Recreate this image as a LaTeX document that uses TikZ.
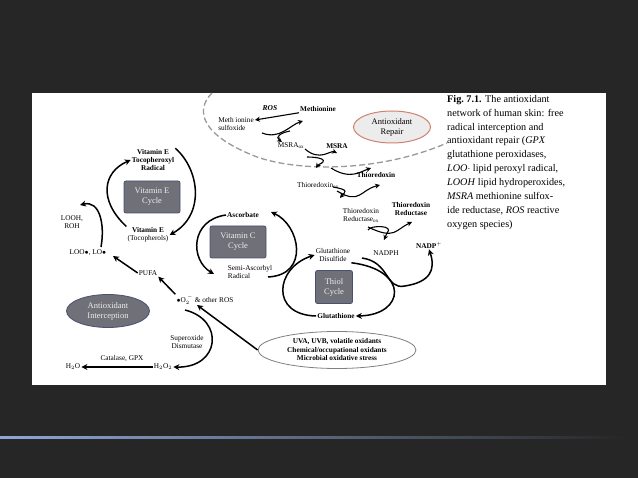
\documentclass[tikz,border=0pt]{standalone}
\usepackage{fontspec}
\setmainfont{Liberation Serif}
\usetikzlibrary{arrows.meta,shapes.geometric}
\definecolor{slide}{HTML}{262626}
\definecolor{boxg}{HTML}{707078}
\definecolor{boxb}{HTML}{4A5070}
\definecolor{rep}{HTML}{D08070}
\definecolor{lineb}{HTML}{8FA8D8}
\tikzset{
 lab/.style={font=\fontsize{7.3}{8}\selectfont,align=center,inner sep=1pt},
 blab/.style={lab,font=\fontsize{7.3}{8}\selectfont\bfseries},
 cyc/.style={draw=boxb,fill=boxg,text=white!85!gray,rounded corners=2pt,font=\fontsize{8.5}{10}\selectfont,align=center,minimum width=56pt,minimum height=32pt,line width=0.8pt},
 ar/.style={line width=1.5pt,-{Stealth[length=6pt,width=6pt]}},
 thin ar/.style={line width=1.1pt,-{Stealth[length=5pt,width=5pt]}},
}
\begin{document}
\begin{tikzpicture}[x=1pt,y=-1pt]
\fill[slide] (0,0) rectangle (638,478);
\useasboundingbox (0,0) rectangle (638,478);
\fill[white] (32,93) rectangle (606,385);
\shade[left color=lineb,right color=slide] (0,437) rectangle (625,439);
% caption
\node[anchor=north west,align=left,inner sep=0pt,font=\fontsize{10.2}{13.9}\selectfont] at (447,95) {\textbf{Fig.\ 7.1.} The antioxidant\\network of human skin: free\\radical interception and\\antioxidant repair (\textit{GPX}\\glutathione peroxidases,\\\textit{LOO}$\cdot$ lipid peroxyl radical,\\\textit{LOOH} lipid hydroperoxides,\\\textit{MSRA} methionine sulfox-\\ide reductase, \textit{ROS} reactive\\oxygen species)};
% dashed boundary
\draw[gray!80,line width=1.3pt,dash pattern=on 6pt off 3pt] (212,93) .. controls (195,110) and (200,135) .. (257,157) .. controls (300,172) and (380,172) .. (447,143);
\node[ellipse,draw=rep,fill=gray!15,line width=1pt,minimum width=77pt,minimum height=32pt,font=\fontsize{8.5}{10}\selectfont,align=center,inner sep=0pt] (repair) at (392,127) {Antioxidant\\Repair};
% repair chain
\node[lab,font=\fontsize{7.5}{8}\selectfont\bfseries\itshape] (ros) at (270,108) {ROS};
\node[blab] (met) at (318,109) {Methionine};
\node[lab,align=left] (mso) at (236,124) {Meth ionine\\sulfoxide};
\node[lab] (msrox) at (291,146) {MSRA$_{\mathrm{ox}}$};
\node[blab] (msra) at (337,146) {MSRA};
\node[blab] (trx) at (376,175) {Thioredoxin};
\node[lab] (trxox) at (318,185) {Thioredoxin$_{\mathrm{ox}}$};
\node[lab] (trrox) at (361,215) {Thioredoxin\\Reductase$_{\mathrm{ox}}$};
\node[blab] (trr) at (411,209) {Thioredoxin\\Reductase};
\node[lab] (nadph) at (386,253) {NADPH};
\node[blab] (nadp) at (429,245) {NADP$^{+}$};
\draw[thin ar] (met.south west) -- (mso.east |- 0,120);
\draw[thin ar] (262,133) .. controls (280,140) and (290,125) .. (303,121);
\draw[thin ar] (290,131) .. controls (280,133) and (275,137) .. (282,142);
\draw[thin ar] (305,149) .. controls (320,162) and (330,150) .. (337,153);
\draw[thin ar] (307,157) .. controls (320,157) and (330,160) .. (318,165)-- (316,168);
\draw[thin ar] (331,168) .. controls (350,180) and (360,172) .. (371,168);
\draw[thin ar] (333,187) .. controls (350,190) and (345,192) .. (340,198);
\draw[thin ar] (337,191) .. controls (360,205) and (360,190) .. (380,185);
\draw[thin ar] (368,227) .. controls (395,240) and (395,230) .. (412,222);
\draw[thin ar] (368,230) .. controls (370,225) and (395,225) .. (387,233) -- (384,240);
% vitamin E
\node[blab] (vrad) at (153,160) {Vitamin E\\Tocopheroxyl\\Radical};
\node[cyc] (vecyc) at (152,197) {Vitamin E\\Cycle};
\node[lab] (vite) at (148,235) {\textbf{Vitamin E}\\(Tocopherols)};
\node[lab] (looh) at (72,222) {LOOH,\\ROH};
\node[lab] (loo) at (88,253) {LOO$\bullet$, LO$\bullet$};
\node[lab] (pufa) at (148,273) {PUFA};
\draw[ar] (vite.north west) .. controls (98,200) and (103,172) .. (vrad.west);
\draw[ar] (vrad.north east) .. controls (200,170) and (205,215) .. (vite.east);
\draw[ar] (101,247) .. controls (105,225) and (100,200) .. (80,205);
\draw[ar] (pufa.west) -- (113,256);
% vitamin C
\node[blab] (asc) at (243,215) {Ascorbate};
\node[cyc] (vccyc) at (238,242) {Vitamin C\\Cycle};
\node[lab,align=left] (semi) at (250,272) {Semi-Ascorbyl\\Radical};
\draw[ar] (asc.west) .. controls (190,220) and (190,260) .. (214,274);
\draw[ar] (268,277) .. controls (310,275) and (300,225) .. (271,212);
% thiol
\node[lab] (gssg) at (333,255) {Glutathione\\Disulfide};
\node[cyc,minimum width=37pt,minimum height=33pt] (thiol) at (334,287) {Thiol\\Cycle};
\node[blab] (gsh) at (336,316) {Glutathione};
\draw[ar] (gsh.west) .. controls (270,315) and (275,268) .. (gssg.west);
\draw[ar] (gssg.south east) .. controls (410,270) and (405,315) .. (gsh.east);
\draw[ar] (362,258) .. controls (390,262) and (385,290) .. (405,286) .. controls (430,282) and (436,270) .. (nadp.south);
% interception
\node[ellipse,draw=boxb,fill=boxg,text=white!85!gray,line width=0.8pt,minimum width=83pt,minimum height=33pt,inner sep=0pt,font=\fontsize{8.5}{10}\selectfont,align=center] (inter) at (108,311) {Antioxidant\\Interception};
\node[lab] (o2) at (205,300) {$\bullet$O$_2^{\,-}$ \& other ROS};
\node[lab] (sod) at (187,342) {Superoxide\\Dismutase};
\node[lab] (h2o2) at (163,367) {H$_2$O$_2$};
\node[lab] (h2o) at (73,367) {H$_2$O};
\node[lab] (cat) at (122,359) {Catalase, GPX};
\node[ellipse,draw=gray,line width=0.8pt,minimum width=158pt,minimum height=37pt,inner sep=0pt,font=\fontsize{7.3}{8.5}\selectfont\bfseries,align=center] (uva) at (337,350) {UVA, UVB, volatile oxidants\\Chemical/occupational oxidants\\Microbial oxidative stress};
\draw[ar] (o2.north west) -- (pufa.south east);
\draw[ar] (uva.west) -- (197,305);
\draw[ar] (185,310) .. controls (225,320) and (220,368) .. (h2o2.east);
\draw[ar] (h2o2.west) -- (h2o.east);
\end{tikzpicture}
\end{document}
